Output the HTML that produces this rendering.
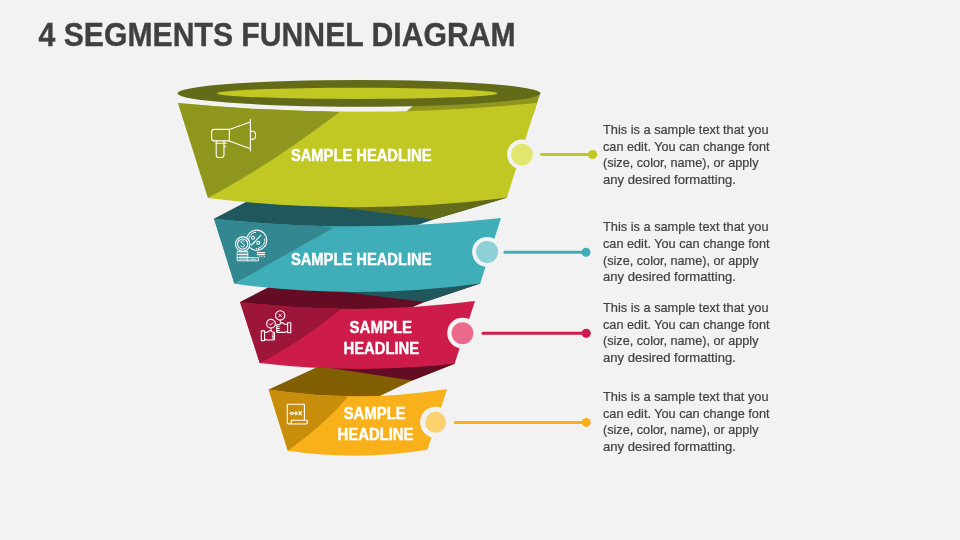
<!DOCTYPE html>
<html><head><meta charset="utf-8"><style>
html,body{margin:0;padding:0;background:#f2f2f2;}
body{width:960px;height:540px;overflow:hidden;font-family:"Liberation Sans",sans-serif;}
svg{display:block;will-change:transform;}
.t{font-family:"Liberation Sans",sans-serif;}
</style></head><body>
<svg width="960" height="540" viewBox="0 0 960 540">
<rect width="960" height="540" fill="#f2f2f2"/>
<text class="t" x="38.6" y="46" font-size="33.4" font-weight="bold" fill="#404040" stroke="#404040" stroke-width="0.35" textLength="477" lengthAdjust="spacingAndGlyphs">4 SEGMENTS FUNNEL DIAGRAM</text>

<!-- ===== dark back / underside pieces ===== -->
<!-- amber back -->
<path d="M268.6,389.6 L330,361.2 L454.6,363.75 L412.2,380.6 L380.8,395.6 L361.2,405 L285,405 Z" fill="#835f04"/>
<!-- crimson underside -->
<path d="M454.6,363.75 L412.2,380.6 L330,367.9 L330,355 L454.6,355 Z" fill="#640c24"/>
<!-- crimson back -->
<path d="M240,302 L280,281.2 L480.2,283.4 L424.7,302 L412.7,306.9 L386,318 L255,318 Z" fill="#640c24"/>
<!-- teal underside -->
<path d="M480.2,283.4 L424.7,302 L341,291.8 L341,280 L480,280 Z" fill="#1f575c"/>
<!-- teal back -->
<path d="M213.9,218.7 L260,194.8 L506.7,197.8 L433.6,219.5 L416.7,225.2 L400,235 L230,235 Z" fill="#1f575c"/>
<!-- lime underside -->
<path d="M506.7,197.8 L433.6,219.5 L330,205.9 L330,195 L506.7,190 Z" fill="#636a18"/>

<!-- ===== front faces ===== -->
<!-- amber -->
<clipPath id="cA"><path id="fA" d="M268.6,389.6 Q357.85,403.4 447.1,388.9 L427.4,449.8 Q357.6,461.1 287.8,450.8 Z"/></clipPath>
<use href="#fA" fill="#f8b11b"/>
<path clip-path="url(#cA)" d="M260,380 L348.1,396.7 Q323,426 287.8,450.5 L260,460 Z" fill="#c98d0c"/>
<!-- crimson -->
<clipPath id="cC"><path id="fC" d="M240,302 Q357.5,316.35 475,301.1 L454.6,363.8 Q356.1,374.4 259.7,363 Z"/></clipPath>
<use href="#fC" fill="#cd1b4a"/>
<path clip-path="url(#cC)" d="M230,290 L341.3,309 Q297.3,344.2 259.7,363 L230,370 Z" fill="#9d1538"/>
<!-- teal -->
<clipPath id="cT"><path id="fT" d="M214,218.7 Q357.5,234.35 501,218 L480.2,283.4 Q357.3,300.2 234.4,283.8 Z"/></clipPath>
<use href="#fT" fill="#40aeb8"/>
<path clip-path="url(#cT)" d="M205,210 L333.6,227.8 L234.5,283.5 L205,290 Z" fill="#338790"/>
<!-- lime gap band (olive on right part) -->
<path d="M415.7,103.8 L400.8,116 L532.8,116 L540.3,93.3 A181.5 11 0 0 1 415.7,103.8 Z" fill="#8f961e"/>
<!-- lime body -->
<clipPath id="cL"><path id="fL" d="M178,103 Q357.5,120.4 536.9,103 L506.8,197.8 Q357.4,216.4 208,198 Z"/></clipPath>
<use href="#fL" fill="#c1c823"/>
<path clip-path="url(#cL)" d="M170,95 L339.3,112.2 Q265,168.2 208.3,197.6 L170,205 Z" fill="#8f961e"/>
<!-- lime rim -->
<ellipse cx="359" cy="93.3" rx="181.5" ry="13.4" fill="#636a18"/>
<ellipse cx="357.2" cy="93.3" rx="140.4" ry="5.6" fill="#c1c823"/>

<!-- ===== icons ===== -->
<g fill="none" stroke="#ffffff" stroke-width="1.1" stroke-linejoin="round" stroke-linecap="round">
<!-- megaphone -->
<path d="M229.3,129.4 H214.2 Q211.6,129.4 211.6,132 V138.3 Q211.6,140.9 214.2,140.9 H229.3 Z"/>
<path d="M229.3,129.4 L250.4,121.9 M229.3,140.9 L250.4,148.8 M250.4,119.3 V151"/>
<path d="M250.6,131.3 H253 Q255.6,131.6 255.6,135.35 Q255.6,139.1 253,139.4 H250.6"/>
<path d="M216.2,141 V155 Q216.2,157.5 218.7,157.5 H221.6 Q224,157.5 224,155 V141"/>
<path d="M216.2,143.2 H226.2 M224,146.2 H225.8"/>
<!-- coins -->
<circle cx="256.7" cy="240.2" r="10.1"/>
<path d="M248.6,241.5 A8.2,8.2 0 0 1 255,232.2 M264.8,238.8 A8.2,8.2 0 0 1 258.5,248.2" stroke-width="0.9"/>
<path d="M251.6,245 L260.7,235.4"/>
<circle cx="253" cy="237.8" r="1.5"/>
<circle cx="258.3" cy="242.8" r="1.5"/>
<circle cx="242.7" cy="244.1" r="7.2" fill="#338790"/>
<circle cx="242.7" cy="244.1" r="5.1"/>
<path d="M244.3,241.8 C244,241 243.3,240.7 242.6,240.7 C241.6,240.7 241,241.3 241,242.1 C241,243.9 244.4,243.4 244.4,245.4 C244.4,246.3 243.6,247 242.6,247 C241.7,247 241.1,246.6 240.8,245.9" stroke-width="1"/>
<path d="M255.4,232.5 h0.2 M256.3,248.5 h0.2 M258.3,248.5 h0.2" stroke-width="1"/>
<path d="M237.6,251.4 H247.8 V254.5 H237.6 Z M237.6,254.5 H247.8 V257.7 H237.6 Z M237.6,257.7 H258.4 V260.8 H237.6 Z M247.8,257.7 V260.8" stroke-width="0.9"/>
<path d="M239.5,253 h1 m1,0 h1 m1,0 h1 m1,0 h1 M239.5,256.2 h1 m1,0 h1 m1,0 h1 m1,0 h1 M239.5,259.3 h1 m1,0 h1 m1,0 h1 m1,0 h1 M250,259.3 h6" stroke-width="0.7"/>
<path d="M257.2,252.6 H264.6 M257.2,254.6 H264.6"/>
<path d="M259.6,256.7 h0.3 M261.8,256.7 h0.3 M264.2,256.7 h0.3" stroke-width="1"/>
<!-- hands -->
<circle cx="280.2" cy="315.4" r="4.7"/>
<path d="M278.9,314.1 L281.5,316.7 M281.5,314.1 L278.9,316.7" stroke-width="0.9"/>
<circle cx="271" cy="323.7" r="4.35"/>
<path d="M269.2,323.8 L270.6,325.1 L273,322.6" stroke-width="0.9"/>
<path d="M280.3,320.1 V322.8 M271,328 V330.8" stroke-width="0.9"/>
<path d="M287.6,322.8 H290.8 V332.8 H287.6 Z"/>
<path d="M287.6,324.3 L284.5,324.3 L282.6,322.8 Q281.8,322.4 281.1,323.1 L279.8,324.5 H277.6 Q276.6,324.5 276.6,325.4 Q276.6,326.3 277.6,326.3 H279.2 M277.6,326.3 Q276.6,326.3 276.6,327.4 Q276.6,328.4 277.6,328.4 H279.2 M277.6,328.4 Q276.6,328.4 276.6,329.5 Q276.6,330.5 277.6,330.5 H279.2 M277.6,330.5 Q276.6,330.5 276.6,331.4 Q276.6,332.4 277.8,332.4 H284.5 L287.6,331.2"/>
<path d="M261.3,330.9 H264.6 V340.6 H261.3 Z"/>
<path d="M264.6,332.3 L267.3,332.3 L269.5,330.8 Q270.6,330.2 271.5,331 L272.4,332 H273.6 Q274.6,332 274.6,333 Q274.6,334 273.6,334 H272.3 M273.6,334 Q274.6,334 274.6,335.1 Q274.6,336.1 273.6,336.1 H272.3 M273.6,336.1 Q274.6,336.1 274.6,337.1 Q274.6,338.1 273.6,338.1 H272.3 M273.6,338.1 Q274.6,338.1 274.6,339 Q274.6,340 273.4,340 H267.3 L264.6,339.2"/>
<!-- document -->
<path d="M304.4,420.2 V404.2 H287.3 V422 Q287.3,424 289.4,424 Q291.4,424 291.4,422 V420.2 H307.4 V422 Q307.4,424 305.4,424 H289.4"/>
<ellipse cx="291.6" cy="413.3" rx="1.6" ry="1.1" stroke-width="1.1"/>
<path d="M293.2,413.3 H297.2 M295.6,411.7 L297.3,413.3 L295.6,414.9 M298.8,411.7 L301.6,415 M301.6,411.7 L298.8,415" stroke-width="1.15"/>
</g>

<!-- ===== dots & connectors ===== -->
<g stroke-linecap="round">
<circle cx="522" cy="154.5" r="15" fill="#f2f2f2"/>
<circle cx="522" cy="154.5" r="10.8" fill="#e2e66e"/>
<line x1="541.5" y1="154.4" x2="592.6" y2="154.4" stroke="#c1c823" stroke-width="3"/>
<circle cx="592.6" cy="154.5" r="4.6" fill="#c1c823"/>

<circle cx="487.1" cy="251.9" r="15" fill="#f2f2f2"/>
<circle cx="487.1" cy="251.9" r="11" fill="#8dd1d7"/>
<line x1="504.9" y1="252.3" x2="586" y2="252.3" stroke="#40aeb8" stroke-width="3"/>
<circle cx="586" cy="252.3" r="4.5" fill="#40aeb8"/>

<circle cx="462.5" cy="333.1" r="15.3" fill="#f2f2f2"/>
<circle cx="462.5" cy="333.2" r="10.9" fill="#eb6a8c"/>
<line x1="483" y1="333.3" x2="586.2" y2="333.3" stroke="#cd1b4a" stroke-width="3"/>
<circle cx="586.2" cy="333.3" r="4.6" fill="#cd1b4a"/>

<circle cx="435.6" cy="422.3" r="15.5" fill="#f2f2f2"/>
<circle cx="435.6" cy="422.3" r="10.5" fill="#fbd06f"/>
<line x1="455.3" y1="422.4" x2="586.2" y2="422.4" stroke="#f8b11b" stroke-width="3"/>
<circle cx="586.2" cy="422.4" r="4.5" fill="#f8b11b"/>
</g>

<!-- ===== headlines ===== -->
<g class="t" font-weight="bold" font-size="16" fill="#ffffff" stroke="#ffffff" stroke-width="0.4">
<text x="290.9" y="161.2" textLength="140.6" lengthAdjust="spacingAndGlyphs">SAMPLE HEADLINE</text>
<text x="290.9" y="265.2" textLength="140.6" lengthAdjust="spacingAndGlyphs">SAMPLE HEADLINE</text>
<text x="349.6" y="332.9" textLength="62.5" lengthAdjust="spacingAndGlyphs">SAMPLE</text>
<text x="343.6" y="353.75" textLength="75.5" lengthAdjust="spacingAndGlyphs">HEADLINE</text>
<text x="343.7" y="418.8" textLength="62" lengthAdjust="spacingAndGlyphs">SAMPLE</text>
<text x="337.5" y="439.7" textLength="76" lengthAdjust="spacingAndGlyphs">HEADLINE</text>
</g>

<!-- ===== body text ===== -->
<g class="t" font-size="13.1" fill="#404040" stroke="#404040" stroke-width="0.2">
<text x="603" y="133.75" textLength="165.5" lengthAdjust="spacingAndGlyphs">This is a sample text that you</text>
<text x="603" y="150.6" textLength="166.5" lengthAdjust="spacingAndGlyphs">can edit. You can change font</text>
<text x="603" y="167.45" textLength="155.5" lengthAdjust="spacingAndGlyphs">(size, color, name), or apply</text>
<text x="603" y="184.3" textLength="132.8" lengthAdjust="spacingAndGlyphs">any desired formatting.</text>

<text x="603" y="230.8" textLength="165.5" lengthAdjust="spacingAndGlyphs">This is a sample text that you</text>
<text x="603" y="247.65" textLength="166.5" lengthAdjust="spacingAndGlyphs">can edit. You can change font</text>
<text x="603" y="264.5" textLength="155.5" lengthAdjust="spacingAndGlyphs">(size, color, name), or apply</text>
<text x="603" y="281.35" textLength="132.8" lengthAdjust="spacingAndGlyphs">any desired formatting.</text>

<text x="603" y="311.75" textLength="165.5" lengthAdjust="spacingAndGlyphs">This is a sample text that you</text>
<text x="603" y="328.6" textLength="166.5" lengthAdjust="spacingAndGlyphs">can edit. You can change font</text>
<text x="603" y="345.45" textLength="155.5" lengthAdjust="spacingAndGlyphs">(size, color, name), or apply</text>
<text x="603" y="362.3" textLength="132.8" lengthAdjust="spacingAndGlyphs">any desired formatting.</text>

<text x="603" y="400.75" textLength="165.5" lengthAdjust="spacingAndGlyphs">This is a sample text that you</text>
<text x="603" y="417.6" textLength="166.5" lengthAdjust="spacingAndGlyphs">can edit. You can change font</text>
<text x="603" y="434.45" textLength="155.5" lengthAdjust="spacingAndGlyphs">(size, color, name), or apply</text>
<text x="603" y="451.3" textLength="132.8" lengthAdjust="spacingAndGlyphs">any desired formatting.</text>
</g>
</svg>
</body></html>
